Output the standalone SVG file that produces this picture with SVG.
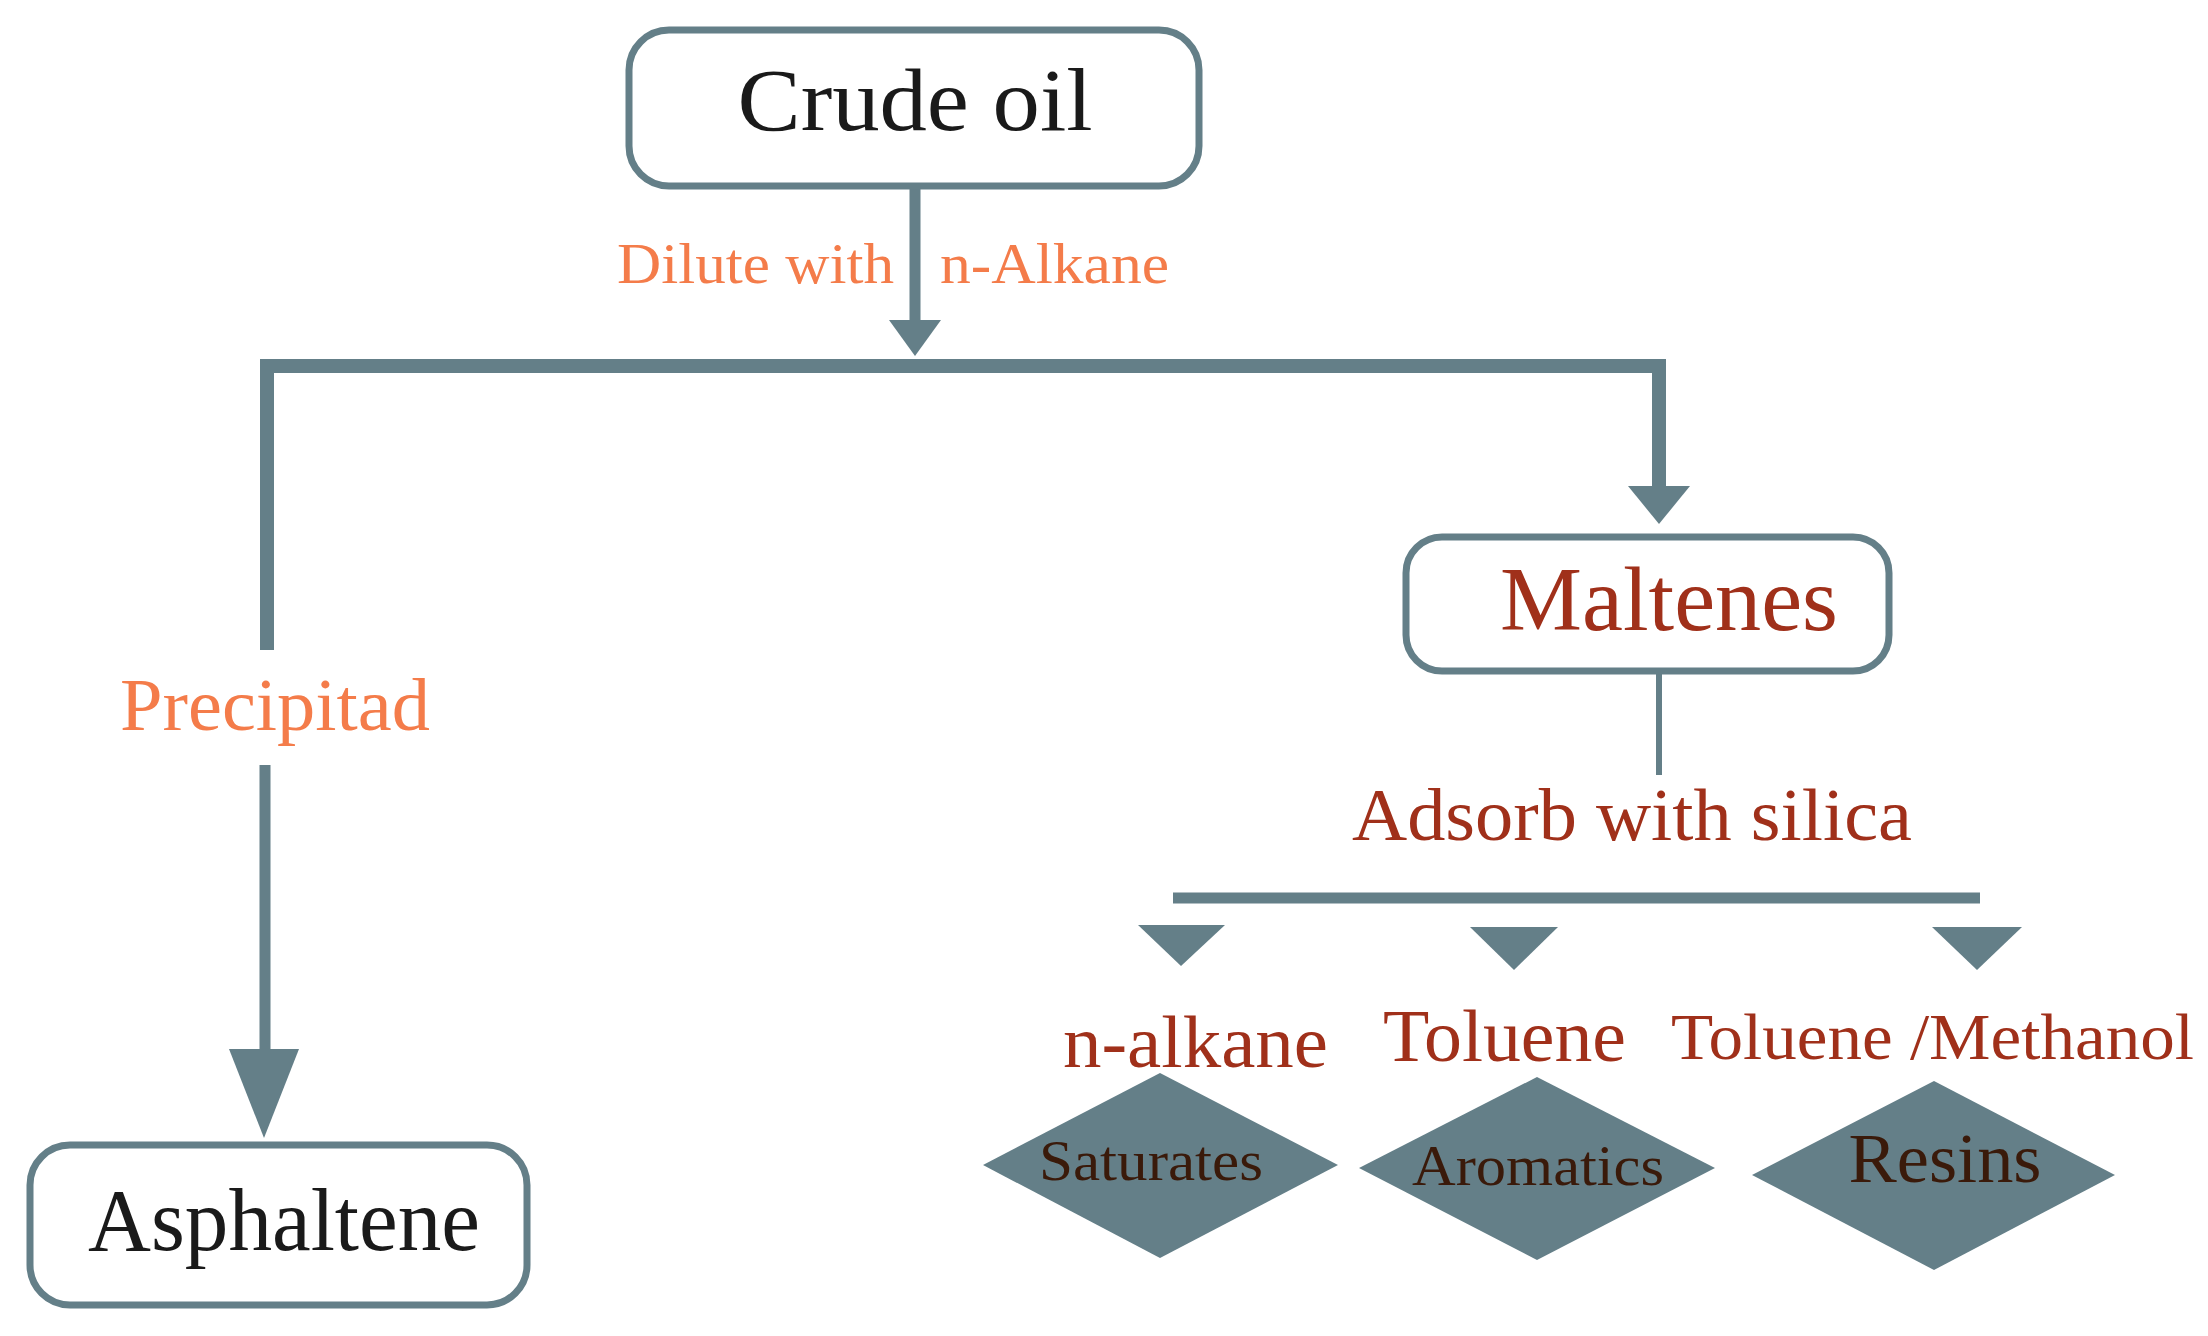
<svg xmlns="http://www.w3.org/2000/svg" width="2208" height="1336" viewBox="0 0 2208 1336">
<style>
text{font-family:"Liberation Serif","Times New Roman",serif}
.box{fill:#fff;stroke:#647f88;stroke-width:7}
.ln{stroke:#647f88;fill:none}
.tri{fill:#647f88}
.blk{fill:#1a1a1a;font-size:88px}
.org{fill:#f47c4a}
.red{fill:#a0301a}
.dia{fill:#3a1a0a}
</style>
<rect width="2208" height="1336" fill="#fff"/>
<g id="connectors">
<line class="ln" x1="915" y1="187" x2="915" y2="325" stroke-width="11"/>
<polygon class="tri" points="889,320 941,320 915,356"/>
<polyline class="ln" points="267,650 267,366 1659,366 1659,490" stroke-width="14"/>
<line class="ln" x1="265" y1="765" x2="265" y2="1055" stroke-width="11"/>
<polygon class="tri" points="229,1049 299,1049 264,1138"/>
<polygon class="tri" points="1628,486 1690,486 1659,524"/>
<line class="ln" x1="1659" y1="672" x2="1659" y2="775" stroke-width="6"/>
<line class="ln" x1="1173" y1="898" x2="1980" y2="898" stroke-width="11"/>
<polygon class="tri" points="1138,925 1225,925 1181,966"/>
<polygon class="tri" points="1470,927 1558,927 1514,970"/>
<polygon class="tri" points="1932,927 2022,927 1977,970"/>
</g>
<g id="crude"><rect class="box" x="629" y="30" width="570" height="156" rx="40"/><text class="blk" x="915" y="130" text-anchor="middle" textLength="355" lengthAdjust="spacingAndGlyphs">Crude oil</text></g>
<g id="asph"><rect class="box" x="30" y="1145" width="497" height="160" rx="40"/><text class="blk" x="284" y="1250" text-anchor="middle" textLength="392" lengthAdjust="spacingAndGlyphs">Asphaltene</text></g>
<g id="malt"><rect class="box" x="1406" y="537" width="483" height="134" rx="36"/><text class="red" font-size="90" x="1669" y="630" text-anchor="middle" textLength="338" lengthAdjust="spacingAndGlyphs">Maltenes</text></g>
<text class="org" font-size="58" x="617" y="283" textLength="277" lengthAdjust="spacingAndGlyphs">Dilute with</text>
<text class="org" font-size="58" x="940" y="283" textLength="229" lengthAdjust="spacingAndGlyphs">n-Alkane</text>
<text class="org" font-size="74" x="120" y="730" textLength="310" lengthAdjust="spacingAndGlyphs">Precipitad</text>
<text class="red" font-size="74" x="1352" y="840" textLength="560" lengthAdjust="spacingAndGlyphs">Adsorb with silica</text>
<text class="red" font-size="74" x="1063" y="1067" textLength="265" lengthAdjust="spacingAndGlyphs">n-alkane</text>
<text class="red" font-size="74" x="1383" y="1061" textLength="243" lengthAdjust="spacingAndGlyphs">Toluene</text>
<text class="red" font-size="66" x="1671" y="1059" textLength="523" lengthAdjust="spacingAndGlyphs">Toluene /Methanol</text>
<g id="sat"><polygon class="tri" points="983,1165 1160,1073 1338,1165 1160,1258"/><text class="dia" font-size="58" x="1151" y="1180" text-anchor="middle" textLength="224" lengthAdjust="spacingAndGlyphs">Saturates</text></g>
<g id="aro"><polygon class="tri" points="1359,1168 1537,1077 1715,1168 1537,1260"/><text class="dia" font-size="58" x="1538" y="1185" text-anchor="middle" textLength="252" lengthAdjust="spacingAndGlyphs">Aromatics</text></g>
<g id="res"><polygon class="tri" points="1752,1175 1934,1081 2115,1175 1934,1270"/><text class="dia" font-size="70" x="1945" y="1182" text-anchor="middle" textLength="193" lengthAdjust="spacingAndGlyphs">Resins</text></g>
</svg>
